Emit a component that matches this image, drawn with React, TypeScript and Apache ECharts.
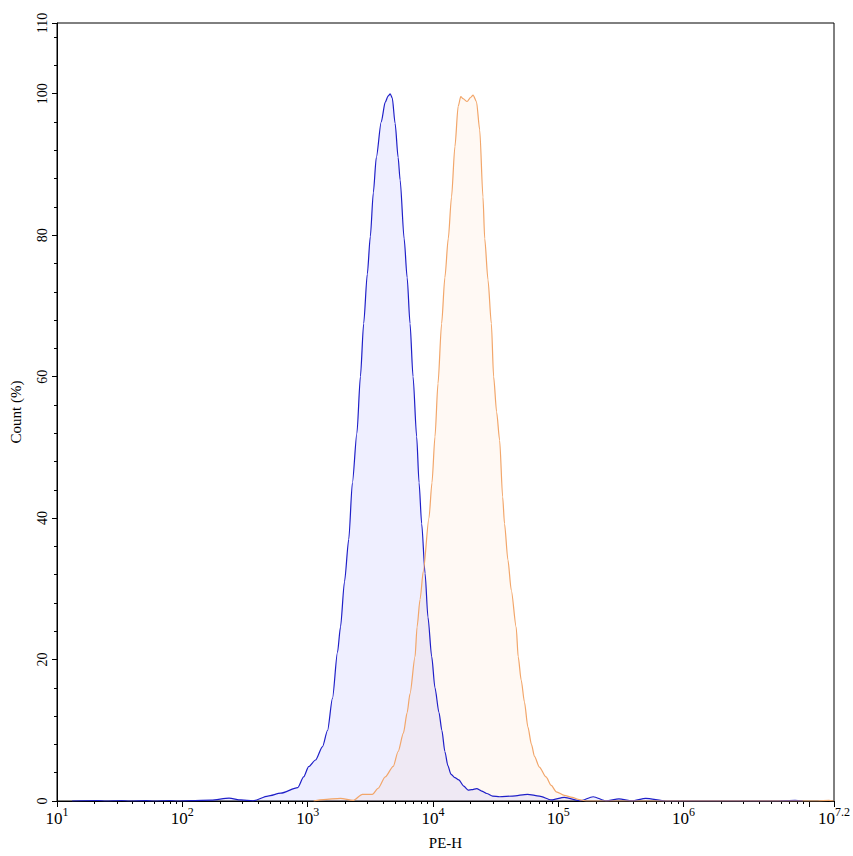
import * as echarts from 'echarts';
import { useEffect, useRef } from 'react';

// [log10(PE-H), count %]
const blueCurve: [number, number][] = [
    [1.12, 0], [1.333, 0.07], [1.389, 0], [1.516, 0.07], [1.579, 0], [1.714, 0.06], [1.77, 0],
    [1.897, 0.07], [1.96, 0], [2.071, 0.06], [2.23, 0.12], [2.373, 0.4], [2.468, 0.15], [2.563, 0.02],
    [2.683, 0.7], [2.786, 1.1], [2.921, 1.9], [2.968, 3.4], [3.008, 4.85], [3.063, 5.8], [3.119, 7.7],
    [3.159, 10], [3.198, 14.5], [3.238, 21], [3.262, 24.6], [3.294, 31], [3.328, 37], [3.357, 45],
    [3.393, 52], [3.421, 60], [3.447, 67.5], [3.476, 74.5], [3.5, 79.8], [3.524, 86], [3.548, 91],
    [3.587, 96], [3.619, 98.8], [3.643, 99.7], [3.659, 100], [3.675, 99.4], [3.698, 95.8], [3.722, 91],
    [3.738, 87.8], [3.77, 79.5], [3.794, 74], [3.817, 67.5], [3.841, 60], [3.87, 51.5], [3.889, 45],
    [3.91, 39.2], [3.937, 32.2], [3.96, 26], [3.99, 20.4], [4.016, 16], [4.048, 12.5], [4.071, 10],
    [4.095, 7], [4.119, 5], [4.143, 3.8], [4.175, 3.3], [4.206, 3.0], [4.246, 2.1], [4.28, 1.55],
    [4.31, 1.6], [4.349, 1.75], [4.389, 1.4], [4.429, 1.06], [4.476, 0.7], [4.532, 0.6], [4.635, 0.7],
    [4.754, 0.95], [4.849, 0.7], [4.944, 0.15], [5.048, 0.5], [5.175, 0.02], [5.278, 0.6], [5.381, 0.02],
    [5.484, 0.3], [5.587, 0.02], [5.698, 0.38], [5.857, 0], [6.754, 0], [6.889, 0.08], [6.952, 0],
];

const orangeCurve: [number, number][] = [
    [3.048, 0], [3.127, 0.2], [3.262, 0.38], [3.365, 0.1], [3.437, 0.95], [3.516, 0.95], [3.563, 1.8],
    [3.619, 3.4], [3.683, 4.9], [3.722, 7], [3.764, 9.6], [3.794, 12.5], [3.817, 15.2], [3.857, 20.4],
    [3.873, 24.6], [3.897, 28.5], [3.923, 32.5], [3.968, 40], [3.992, 45], [4.016, 51.5], [4.04, 59],
    [4.069, 67.5], [4.095, 74], [4.122, 79.5], [4.148, 85.4], [4.175, 92.5], [4.201, 98.2], [4.222, 99.6],
    [4.24, 99.3], [4.272, 98.9], [4.302, 99.5], [4.32, 99.8], [4.347, 98.9], [4.373, 94.9], [4.399, 85.4],
    [4.413, 79.5], [4.439, 73.7], [4.466, 67.5], [4.484, 60], [4.508, 55], [4.532, 51], [4.556, 43],
    [4.571, 39.2], [4.598, 34.1], [4.625, 29.8], [4.664, 24.6], [4.68, 20.4], [4.704, 17.1], [4.73, 14],
    [4.757, 10.5], [4.786, 8], [4.81, 6.3], [4.849, 4.8], [4.902, 3.4], [4.944, 2.2], [4.984, 1.3],
    [5.048, 0.8], [5.111, 0.5], [5.167, 0.2], [5.222, 0], [7.071, 0], [7.159, 0.08], [7.198, 0],
];

const xLabelExponents = [1, 2, 3, 4, 5, 6, 7.2];
const yLabels = [0, 20, 40, 60, 80, 100, 110];

const serif = '"Liberation Serif", "Times New Roman", serif';

// minor ticks at 2..9 x 10^n
const xMinorTicks: number[] = [];
for (let n = 1; n <= 6; n++) {
    for (let k = 2; k <= 9; k++) xMinorTicks.push(n + Math.log10(k));
}

export default function App() {
    const chartRef = useRef<HTMLDivElement>(null);

    useEffect(() => {
        document.body.style.margin = '0';
        if (!chartRef.current) return;

        const chart = echarts.init(chartRef.current, null, { renderer: 'svg' });

        const option: echarts.EChartsOption = {
            animation: false,
            backgroundColor: '#fff',
            grid: {
                left: 55,
                right: 15,
                top: 23,
                bottom: 55,
                show: true,
                borderColor: '#000',
                borderWidth: 1,
            },
            xAxis: [
                {
                    type: 'value',
                    min: 1,
                    max: 7.2,
                    interval: 1,
                    name: 'PE-H',
                    nameLocation: 'middle',
                    nameGap: 34,
                    nameTextStyle: { fontFamily: serif, fontSize: 15, color: '#000' },
                    axisLine: { onZero: false, lineStyle: { color: '#000', width: 1 } },
                    axisTick: { length: 6, lineStyle: { color: '#000' } },
                    splitLine: { show: false },
                    axisLabel: {
                        margin: 5,
                        fontFamily: serif,
                        fontSize: 17,
                        color: '#000',
                        showMinLabel: true,
                        showMaxLabel: true,
                        formatter: (v: number) => (xLabelExponents.includes(v) ? `{b|10}{s|${v}}` : ''),
                        rich: {
                            b: { fontFamily: serif, fontSize: 17, color: '#000', lineHeight: 21, verticalAlign: 'bottom' },
                            s: { fontFamily: serif, fontSize: 12, color: '#000', lineHeight: 21, verticalAlign: 'top' },
                        },
                    },
                    z: 3,
                },
                {
                    type: 'value',
                    min: 1,
                    max: 7.2,
                    position: 'bottom',
                    axisLine: { show: false, onZero: false },
                    axisLabel: { show: false },
                    splitLine: { show: false },
                    axisTick: { show: true, length: 3, customValues: xMinorTicks, lineStyle: { color: '#000' } },
                    z: 3,
                } as any,
            ],
            yAxis: [
                {
                    type: 'value',
                    min: 0,
                    max: 110,
                    interval: 20,
                    name: 'Count (%)',
                    nameLocation: 'middle',
                    nameGap: 34,
                    nameTextStyle: { fontFamily: serif, fontSize: 15, color: '#000' },
                    axisLine: { show: true, lineStyle: { color: '#000', width: 1 } },
                    axisTick: { show: true, length: 5, lineStyle: { color: '#000' } },
                    splitLine: { show: false },
                    axisLabel: {
                        rotate: 90,
                        margin: 8,
                        fontFamily: serif,
                        fontSize: 14,
                        color: '#000',
                        showMaxLabel: true,
                        formatter: (v: number) => (yLabels.includes(v) ? String(v) : ''),
                    },
                },
                {
                    type: 'value',
                    min: 0,
                    max: 110,
                    interval: 4,
                    position: 'left',
                    axisLine: { show: false },
                    axisTick: { show: true, length: 3, lineStyle: { color: '#000' } },
                    axisLabel: { show: false },
                    splitLine: { show: false },
                },
            ],
            series: [
                {
                    name: 'Blue',
                    type: 'line',
                    xAxisIndex: 0,
                    yAxisIndex: 0,
                    data: blueCurve,
                    symbol: 'none',
                    smooth: 0.25,
                    smoothMonotone: 'x',
                    silent: true,
                    lineStyle: { color: '#1f1fc8', width: 1.2 },
                    areaStyle: { color: 'rgba(0, 0, 255, 0.09)' },
                },
                {
                    name: 'Orange',
                    type: 'line',
                    xAxisIndex: 0,
                    yAxisIndex: 0,
                    data: orangeCurve,
                    symbol: 'none',
                    smooth: 0.25,
                    smoothMonotone: 'x',
                    silent: true,
                    lineStyle: { color: '#f2a66a', width: 1.2 },
                    areaStyle: { color: 'rgba(255, 150, 60, 0.08)' },
                },
            ],
        };

        chart.setOption(option);

        const handleResize = () => chart.resize();
        window.addEventListener('resize', handleResize);

        return () => {
            chart.dispose();
            window.removeEventListener('resize', handleResize);
        };
    }, []);

    return <div ref={chartRef} style={{ width: '853px', height: '856px' }} />;
}
